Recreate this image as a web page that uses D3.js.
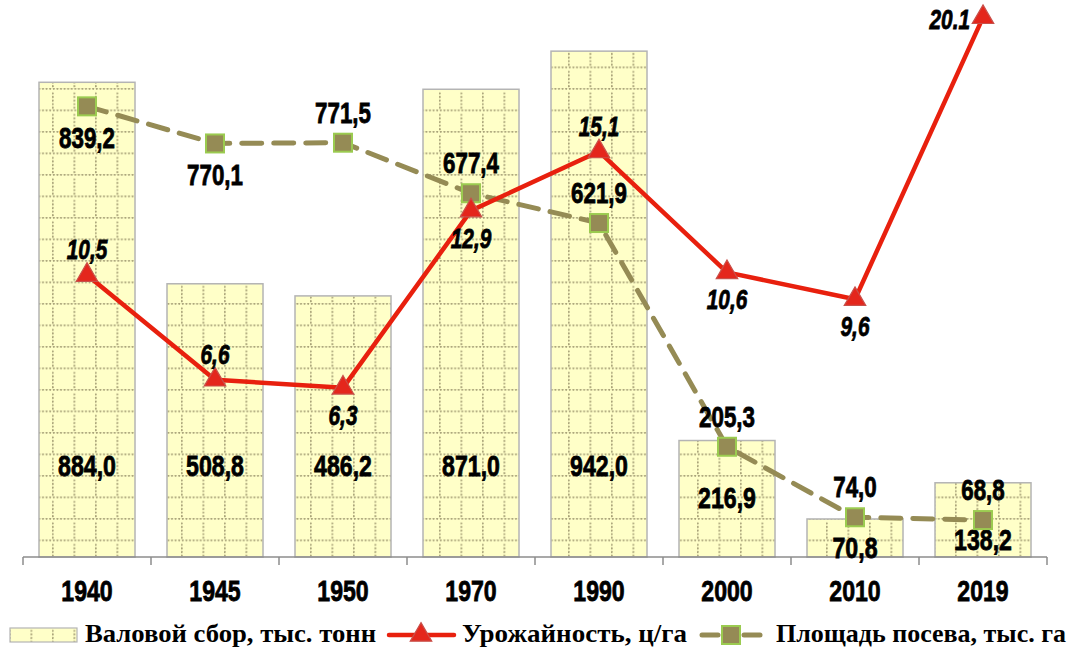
<!DOCTYPE html>
<html>
<head>
<meta charset="utf-8">
<script src="https://cdn.jsdelivr.net/npm/d3@7"></script>
<style>
  html, body { margin: 0; padding: 0; background: #fff; }
  svg { display: block; }
  .num { font-family: "Liberation Sans", Arial, sans-serif; font-weight: bold; stroke: #000; stroke-width: 0.8px; }
  .leg { font-family: "Liberation Serif", "Times New Roman", serif; font-weight: bold; }
</style>
</head>
<body>
<svg id="chart" width="1075" height="652"></svg>
<script>
const categories = ["1940", "1945", "1950", "1970", "1990", "2000", "2010", "2019"];
const grossHarvest = [884.0, 508.8, 486.2, 871.0, 942.0, 216.9, 70.8, 138.2];
const yieldValues = [10.5, 6.6, 6.3, 12.9, 15.1, 10.6, 9.6, 20.1];
const yieldLabels = ["10,5", "6,6", "6,3", "12,9", "15,1", "10,6", "9,6", "20.1"];
const areaValues = [839.2, 770.1, 771.5, 677.4, 621.9, 205.3, 74.0, 68.8];
const grossLabels = ["884,0", "508,8", "486,2", "871,0", "942,0", "216,9", "70,8", "138,2"];
const areaLabels = ["839,2", "770,1", "771,5", "677,4", "621,9", "205,3", "74,0", "68,8"];
const seriesNames = ["Валовой сбор, тыс. тонн", "Урожайность, ц/га", "Площадь посева, тыс. га"];

// label placement (style, not data)
const yieldLabelPos = ["above", "above", "below", "below", "above", "below", "below", "left"];
const areaLabelPos = ["below", "below", "above", "above", "above", "above", "above", "above"];

const svg = d3.select("#chart");
const baseY = 557;
const SX = 0.77;

const x = d3.scaleBand().domain(categories).range([23, 1047]).paddingInner(0.25).paddingOuter(0.125);
const y = d3.scaleLinear().domain([0, 1000]).range([baseY, 20]);
const y2 = d3.scaleLinear().domain([0, 20]).range([baseY, 20]);

const RED = "#E8200E";
const OLIVE = "#958B55";

// pattern
const defs = svg.append("defs");
const cell = 21.5;
const pat = defs.append("pattern").attr("id", "dots")
  .attr("patternUnits", "userSpaceOnUse")
  .attr("width", cell).attr("height", cell)
  .attr("x", 9).attr("y", 2);
pat.append("rect").attr("width", cell).attr("height", cell).attr("fill", "#FFFFC8");
const step = cell / 6;
for (let i = 0; i < 6; i++) {
  pat.append("circle").attr("cx", i * step + step / 2).attr("cy", 0.8).attr("r", 1.05).attr("fill", "#A8A278");
  if (i > 0) pat.append("circle").attr("cx", 0.8).attr("cy", i * step + step / 2).attr("r", 1.05).attr("fill", "#A8A278");
}

// condensed numeric text helper
function numText(sel, fx, fy, size, anchor, italic) {
  return sel.join("text")
    .attr("class", "num")
    .attr("transform", (d, i) => `translate(${fx(d, i)},${fy(d, i)}) scale(${SX},1)`)
    .attr("text-anchor", typeof anchor === "function" ? anchor : () => anchor)
    .attr("font-size", size)
    .attr("font-style", italic ? "italic" : "normal")
    .attr("fill", "#000");
}

// bars
svg.append("g").selectAll("rect").data(grossHarvest).join("rect")
  .attr("x", (d, i) => x(categories[i]))
  .attr("y", d => y(d))
  .attr("width", x.bandwidth())
  .attr("height", d => baseY - y(d))
  .attr("fill", "url(#dots)")
  .attr("stroke", "#B4B4B4")
  .attr("stroke-width", 1.5);

// axis
const axisG = svg.append("g").attr("transform", `translate(0,${baseY})`);
axisG.append("line").attr("x1", 23).attr("x2", 1047).attr("y1", 0).attr("y2", 0)
  .attr("stroke", "#8C8C8C").attr("stroke-width", 1.5);
const bounds = d3.range(categories.length + 1).map(i => 23 + i * (1024 / categories.length));
axisG.selectAll("line.tk").data(bounds).join("line").attr("class", "tk")
  .attr("x1", d => d).attr("x2", d => d).attr("y1", 0).attr("y2", 8)
  .attr("stroke", "#8C8C8C").attr("stroke-width", 1.5);
numText(axisG.selectAll("text").data(categories), d => x(d) + x.bandwidth() / 2, () => 44, 30, "middle", false)
  .text(d => d);

// bar labels
numText(svg.append("g").selectAll("text").data(grossHarvest),
  (d, i) => x(categories[i]) + x.bandwidth() / 2,
  d => Math.max(465, Math.min(y(d) + 56, 547)) + 11, 30, "middle", false)
  .text((d, i) => grossLabels[i]);

const cx = i => x(categories[i]) + x.bandwidth() / 2;

// area line (dashed)
const areaLine = d3.line().x((d, i) => cx(i)).y(d => y(d));
svg.append("path").datum(areaValues)
  .attr("d", areaLine)
  .attr("fill", "none")
  .attr("stroke", OLIVE)
  .attr("stroke-width", 5)
  .attr("stroke-dasharray", "20,12")
  .attr("stroke-linecap", "round");

// yield line
const yieldLine = d3.line().x((d, i) => cx(i)).y(d => y2(d));
svg.append("path").datum(yieldValues)
  .attr("d", yieldLine)
  .attr("fill", "none")
  .attr("stroke", RED)
  .attr("stroke-width", 4.5)
  .attr("stroke-linejoin", "round");

// area markers
svg.append("g").selectAll("rect").data(areaValues).join("rect")
  .attr("x", (d, i) => cx(i) - 9)
  .attr("y", d => y(d) - 9)
  .attr("width", 18).attr("height", 18)
  .attr("fill", OLIVE)
  .attr("stroke", "#9BCB50")
  .attr("stroke-width", 2);

// yield markers
const tri = d3.symbol().type(d3.symbolTriangle).size(200);
svg.append("g").selectAll("path").data(yieldValues).join("path")
  .attr("d", tri)
  .attr("transform", (d, i) => `translate(${cx(i)},${y2(d)})`)
  .attr("fill", "#E4261C")
  .attr("stroke", "#C8504A")
  .attr("stroke-width", 1.2);

// area labels
numText(svg.append("g").selectAll("text").data(areaValues),
  (d, i) => cx(i),
  (d, i) => areaLabelPos[i] === "above" ? y(d) - 20 : y(d) + 42, 29, "middle", false)
  .text((d, i) => areaLabels[i]);

// yield labels
numText(svg.append("g").selectAll("text").data(yieldValues),
  (d, i) => yieldLabelPos[i] === "left" ? cx(i) - 13 : cx(i),
  (d, i) => {
    const p = yieldLabelPos[i];
    if (p === "above") return y2(d) - 16;
    if (p === "below") return y2(d) + 37;
    return y2(d) + 12;
  }, 27, (d, i) => yieldLabelPos[i] === "left" ? "end" : "middle", true)
  .text((d, i) => yieldLabels[i]);

// legend
const legY = 635;
const lg = svg.append("g");
lg.append("rect").attr("x", 10).attr("y", legY - 7).attr("width", 67).attr("height", 14)
  .attr("fill", "url(#dots)").attr("stroke", "#B4B4B4").attr("stroke-width", 1.2);
lg.append("text").attr("class", "leg").attr("x", 85).attr("y", legY + 7)
  .attr("font-size", 26).attr("textLength", 291).attr("lengthAdjust", "spacingAndGlyphs")
  .attr("fill", "#000").text(seriesNames[0]);

lg.append("line").attr("x1", 389).attr("x2", 454).attr("y1", legY).attr("y2", legY)
  .attr("stroke", RED).attr("stroke-width", 4.5).attr("stroke-linecap", "round");
lg.append("path").attr("d", tri).attr("transform", `translate(421,${legY})`)
  .attr("fill", "#E4261C").attr("stroke", "#C8504A").attr("stroke-width", 1.2);
lg.append("text").attr("class", "leg").attr("x", 462).attr("y", legY + 7)
  .attr("font-size", 26).attr("textLength", 225).attr("lengthAdjust", "spacingAndGlyphs")
  .attr("fill", "#000").text(seriesNames[1]);

lg.append("line").attr("x1", 702).attr("x2", 718).attr("y1", legY).attr("y2", legY)
  .attr("stroke", OLIVE).attr("stroke-width", 5).attr("stroke-linecap", "round");
lg.append("line").attr("x1", 744).attr("x2", 760).attr("y1", legY).attr("y2", legY)
  .attr("stroke", OLIVE).attr("stroke-width", 5).attr("stroke-linecap", "round");
lg.append("rect").attr("x", 722).attr("y", legY - 9).attr("width", 18).attr("height", 18)
  .attr("fill", OLIVE).attr("stroke", "#9BCB50").attr("stroke-width", 2);
lg.append("text").attr("class", "leg").attr("x", 776).attr("y", legY + 7)
  .attr("font-size", 26).attr("textLength", 290).attr("lengthAdjust", "spacingAndGlyphs")
  .attr("fill", "#000").text(seriesNames[2]);
</script>
</body>
</html>
